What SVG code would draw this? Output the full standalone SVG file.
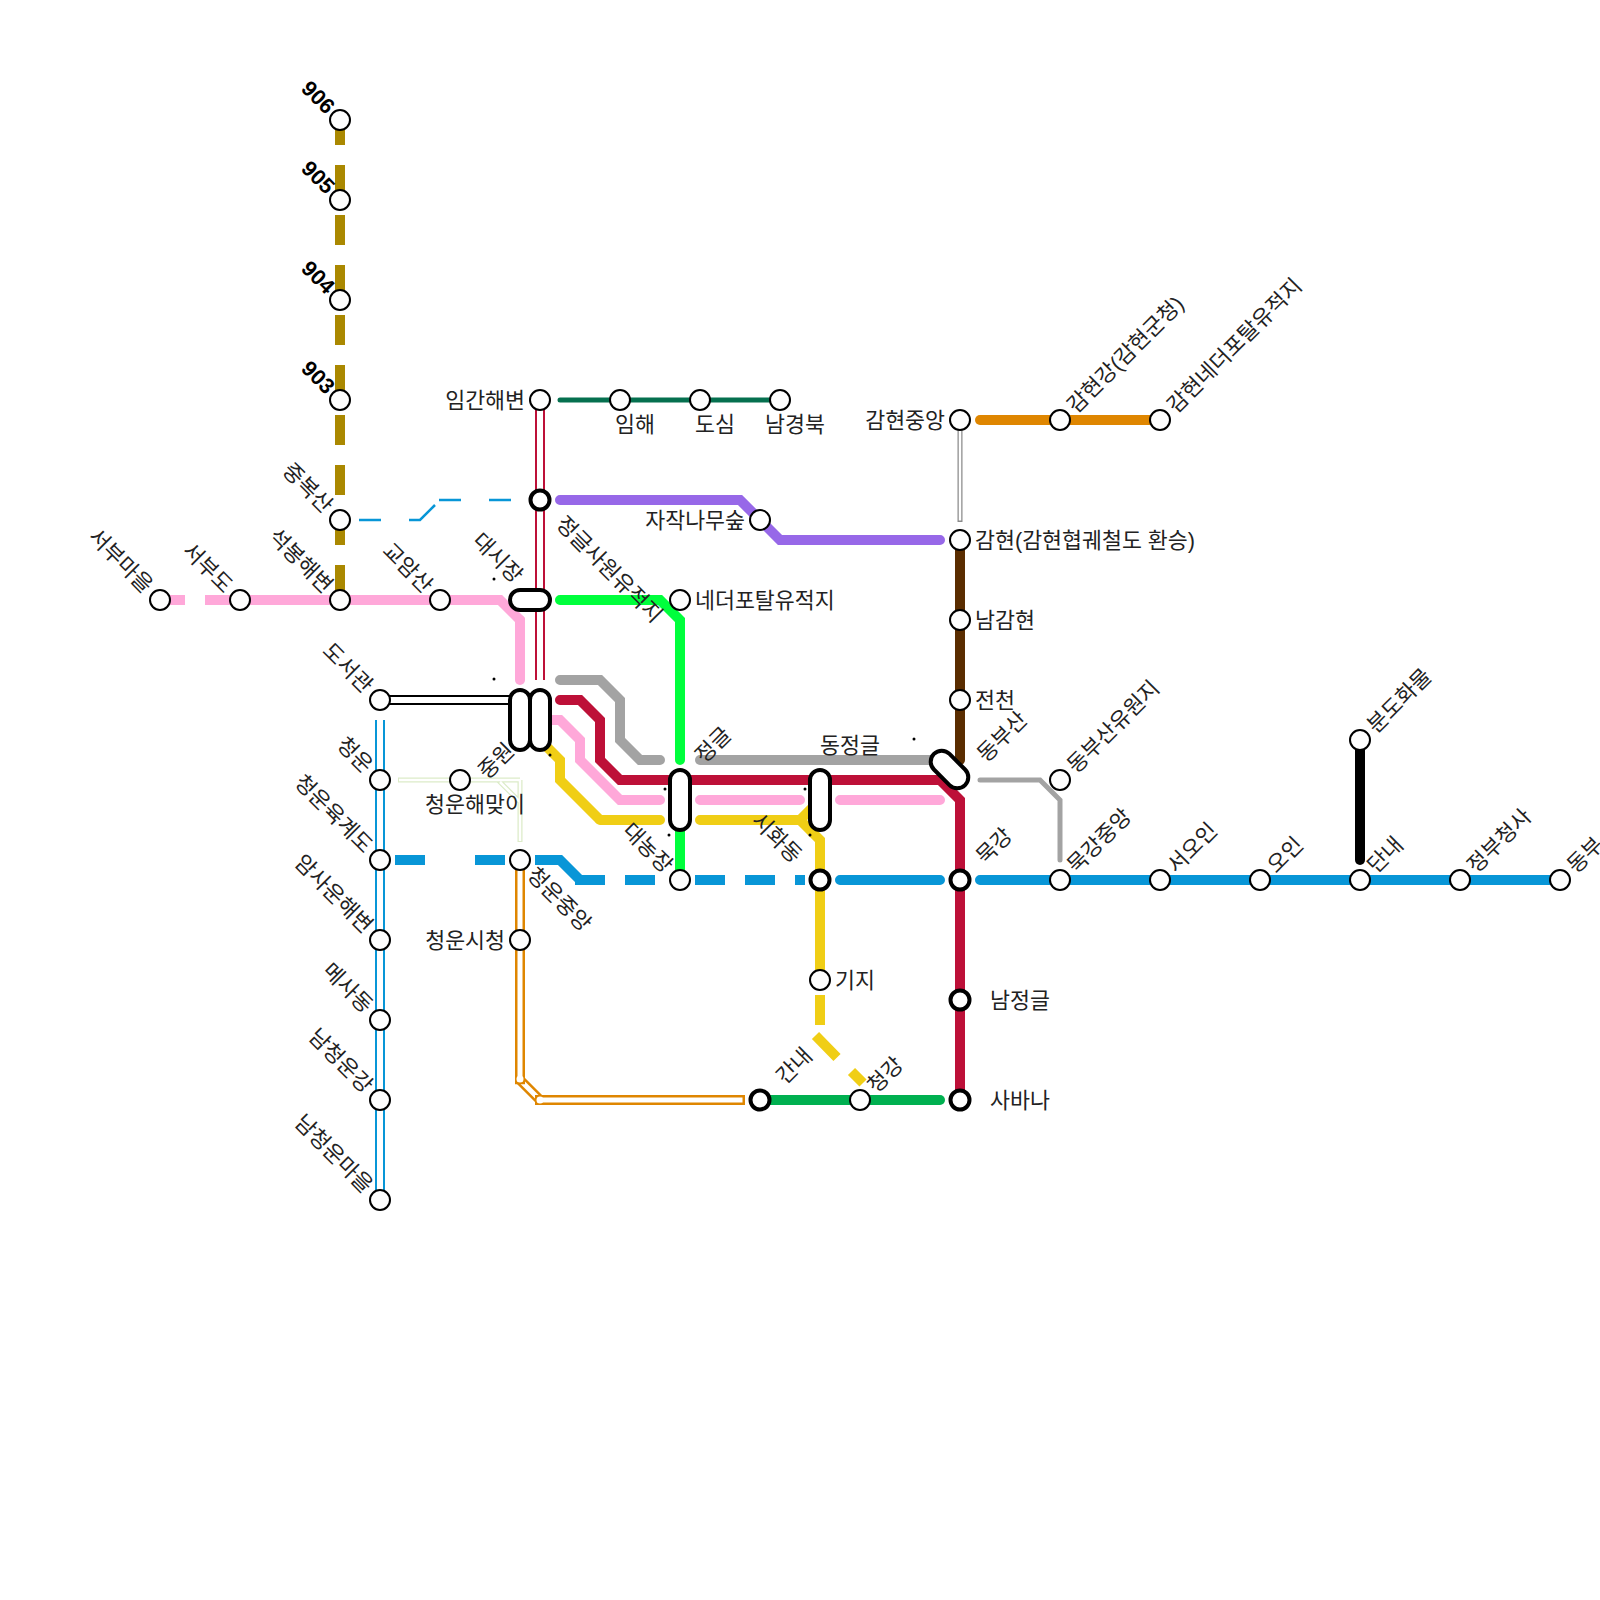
<svg xmlns="http://www.w3.org/2000/svg" width="1600" height="1600" viewBox="0 0 1600 1600">
<style>
text{font-family:"Liberation Sans","Noto Sans CJK KR",sans-serif;font-size:21.7px;fill:#222;dominant-baseline:central}
.b{font-weight:bold;fill:#000}
.e{text-anchor:end}
.m{text-anchor:middle}
.l{fill:none;stroke-linejoin:miter}
.r{stroke-linecap:round}
.w10{stroke-width:10}
.s{fill:#fff;stroke:#000;stroke-width:2}
.t{fill:#fff;stroke:#000;stroke-width:4}
.c{fill:#fff;stroke:#000;stroke-width:4}
.d{fill:#000}
</style>
<rect width="1600" height="1600" fill="#fff"/>
<g id="connectors">
<path class="l w10" stroke="#AA8800" stroke-dasharray="30 20" d="M340 115V600"/>
<path class="l w10" stroke="#FFA8D9" stroke-dasharray="30 20" d="M155 600H235"/>
<path class="l w10" stroke="#FFA8D9" d="M235 600H500L520 620V640"/>
<path class="l w10 r" stroke="#FFA8D9" d="M520 620V680"/>
<g class="l" stroke="#0896D7" stroke-width="2.5">
<path d="M359 520H381M409 520H420L435 505M439 500H461M489 500H511"/>
</g>
<path class="l w10" stroke="#BD1038" d="M540 400V680"/>
<path class="l" stroke="#fff" stroke-width="6" d="M540 400V680"/>
<path class="l r" stroke="#05704F" stroke-width="5" d="M560 400H780"/>
<path class="l w10 r" stroke="#9768E8" d="M560 500H740L780 540H940"/>
<path class="l w10 r" stroke="#00FF3C" d="M560 600H660L680 620V760"/>
<path class="l w10" stroke="#00FF3C" d="M680 820V880"/>
<path class="l w10 r" stroke="#A3A3A3" d="M560 680H600L620 700V740L640 760H660"/>
<path class="l w10 r" stroke="#A3A3A3" d="M700 760H940"/>
<path class="l r" stroke="#A3A3A3" stroke-width="5" d="M980 780H1040L1060 800V860"/>
<path class="l w10" stroke="#FFA8D9" d="M540 715L550 720"/>
<path class="l w10 r" stroke="#FFA8D9" d="M550 720H560L580 740V760L620 800H660M700 800H800M840 800H940"/>
<path class="l w10" stroke="#F0CE15" d="M540 740L560 760V780L600 820"/>
<path class="l w10 r" stroke="#F0CE15" d="M600 820H660M700 820H800"/>
<path class="l w10" stroke="#F0CE15" d="M800 820L820 840V980M800 820L820 800M820 995V1025M815.5 1035.5L837 1057.5M851.5 1071.5L863 1083"/>
<path class="l w10 r" stroke="#BD1038" d="M560 700H580L600 720V760L620 780H940L960 800V1100"/>
<path class="l w10" stroke="#0896D7" d="M380 720V1200"/>
<path class="l" stroke="#fff" stroke-width="6" d="M380 720V1200"/>
<path class="l w10" stroke="#000" d="M380 700H510"/>
<path class="l" stroke="#fff" stroke-width="6" d="M380 700H510"/>
<path class="l w10" stroke="#0896D7" d="M395 860H425M475 860H505M535 860H560L580 880M575 880H605M625 880H655M695 880H725M745 880H775M795 880H805"/>
<path class="l w10 r" stroke="#0896D7" d="M840 880H940M980 880H1560"/>
<path class="l w10 r" stroke="#000" d="M1360 740V860"/>
<path class="l w10 r" stroke="#5A2D00" d="M960 540V760"/>
<path class="l w10 r" stroke="#DF8600" d="M980 420H1160"/>
<path class="l w10 r" stroke="#00B050" d="M770 1100H940"/>
<path class="l" stroke="#8a8a8a" stroke-width="5" d="M960 420V522"/>
<path class="l" stroke="#fff" stroke-width="2.5" d="M960 420V520.5"/>
<path class="l" stroke="#DCEBC8" stroke-width="5" d="M398 780H520M498 780L520 802M520 780V842"/>
<path class="l" stroke="#fff" stroke-width="2.5" d="M399 780H520M500 782L520 802M520 780V841"/>
<path class="l w10" stroke="#DF8600" d="M520 1080L540 1100"/>
<path class="l" stroke="#fff" stroke-width="5" d="M520 1080L540 1100"/>
<rect x="516.25" y="860" width="7.5" height="223" fill="#fff" stroke="#DF8600" stroke-width="2.5"/>
<rect x="536.25" y="1096.25" width="207.5" height="7.5" fill="#fff" stroke="#DF8600" stroke-width="2.5"/>
<circle cx="520" cy="1079" r="3.5" fill="#fff"/>
<circle cx="540" cy="1100" r="3.5" fill="#fff"/>
</g>
<g id="dots">
<circle class="d" cx="494" cy="579" r="1.5"/>
<circle class="d" cx="494" cy="679" r="1.5"/>
<circle class="d" cx="519" cy="725" r="1.5"/>
<circle class="d" cx="550" cy="755" r="1.5"/>
<circle class="d" cx="665" cy="789" r="1.5"/>
<circle class="d" cx="669" cy="835" r="1.5"/>
<circle class="d" cx="805" cy="789" r="1.5"/>
<circle class="d" cx="810" cy="835" r="1.5"/>
<circle class="d" cx="914" cy="739" r="1.5"/>
</g>
<g id="n906"><circle class="s" cx="340" cy="120" r="10"/><text class="b e" transform="translate(331,110) rotate(45)">906</text></g>
<g id="n905"><circle class="s" cx="340" cy="200" r="10"/><text class="b e" transform="translate(331,190) rotate(45)">905</text></g>
<g id="n904"><circle class="s" cx="340" cy="300" r="10"/><text class="b e" transform="translate(331,290) rotate(45)">904</text></g>
<g id="n903"><circle class="s" cx="340" cy="400" r="10"/><text class="b e" transform="translate(331,390) rotate(45)">903</text></g>
<g id="n-jungboksan"><circle class="s" cx="340" cy="520" r="10"/><text class="e" transform="translate(329,509) rotate(45)">중복산</text></g>
<g id="n-seobumaeul"><circle class="s" cx="160" cy="600" r="10"/><text class="e" transform="translate(149,589) rotate(45)">서부마을</text></g>
<g id="n-seobudo"><circle class="s" cx="240" cy="600" r="10"/><text class="e" transform="translate(229,589) rotate(45)">서부도</text></g>
<g id="n-seokbong"><circle class="s" cx="340" cy="600" r="10"/><text class="e" transform="translate(329,589) rotate(45)">석봉해변</text></g>
<g id="n-gyoamsan"><circle class="s" cx="440" cy="600" r="10"/><text class="e" transform="translate(429,589) rotate(45)">교암산</text></g>
<g id="n-daesijang"><rect class="c" x="510" y="590" width="40" height="20" rx="10"/><text class="e" transform="translate(519,579) rotate(45)">대시장</text></g>
<g id="n-imgan"><circle class="s" cx="540" cy="400" r="10"/><text class="e" x="525" y="400">임간해변</text></g>
<g id="n-imhae"><circle class="s" cx="620" cy="400" r="10"/><text class="m" x="635" y="424">임해</text></g>
<g id="n-dosim"><circle class="s" cx="700" cy="400" r="10"/><text class="m" x="715" y="424">도심</text></g>
<g id="n-namgyeongbuk"><circle class="s" cx="780" cy="400" r="10"/><text class="m" x="795" y="424">남경북</text></g>
<g id="n-jeonggeulsawon"><circle class="t" cx="540" cy="500" r="9.5"/><text transform="translate(560,520) rotate(45)">정글사원유적지</text></g>
<g id="n-jajak"><circle class="s" cx="760" cy="520" r="10"/><text class="e" x="745" y="520">자작나무숲</text></g>
<g id="n-nedeo"><circle class="s" cx="680" cy="600" r="10"/><text x="695" y="600">네더포탈유적지</text></g>
<g id="n-doseogwan"><circle class="s" cx="380" cy="700" r="10"/><text class="e" transform="translate(369,689) rotate(45)">도서관</text></g>
<g id="n-cheongun"><circle class="s" cx="380" cy="780" r="10"/><text class="e" transform="translate(369,769) rotate(45)">청운</text></g>
<g id="n-yukgyedo"><circle class="s" cx="380" cy="860" r="10"/><text class="e" transform="translate(369,849) rotate(45)">청운육계도</text></g>
<g id="n-amsa"><circle class="s" cx="380" cy="940" r="10"/><text class="e" transform="translate(369,929) rotate(45)">암사운해변</text></g>
<g id="n-mesa"><circle class="s" cx="380" cy="1020" r="10"/><text class="e" transform="translate(369,1009) rotate(45)">메사동</text></g>
<g id="n-namcheongungang"><circle class="s" cx="380" cy="1100" r="10"/><text class="e" transform="translate(369,1089) rotate(45)">남청운강</text></g>
<g id="n-namcheongunmaeul"><circle class="s" cx="380" cy="1200" r="10"/><text class="e" transform="translate(369,1189) rotate(45)">남청운마을</text></g>
<g id="n-jungwon"><rect class="c" x="510" y="690" width="20" height="60" rx="10"/><rect class="c" x="530" y="690" width="20" height="60" rx="10"/><text transform="translate(482,775) rotate(-45)">중원</text></g>
<g id="n-haemaji"><circle class="s" cx="460" cy="780" r="10"/><text class="m" x="475" y="804">청운해맞이</text></g>
<g id="n-cheongunjungang"><circle class="s" cx="520" cy="860" r="10"/><text transform="translate(531,871) rotate(45)">청운중앙</text></g>
<g id="n-cheongunsicheong"><circle class="s" cx="520" cy="940" r="10"/><text class="e" x="505" y="940">청운시청</text></g>
<g id="n-jeonggeul"><rect class="c" x="670" y="770" width="20" height="60" rx="10"/><text transform="translate(699,759) rotate(-45)">정글</text></g>
<g id="n-daenong"><circle class="s" cx="680" cy="880" r="10"/><text class="e" transform="translate(669,869) rotate(45)">대농장</text></g>
<g id="n-donggeul"><rect class="c" x="810" y="770" width="20" height="60" rx="10"/><text class="m" x="850" y="745">동정글</text></g>
<g id="n-sihwa"><circle class="t" cx="820" cy="880" r="9.5"/><text class="e" transform="translate(798,859) rotate(45)">시화동</text></g>
<g id="n-giji"><circle class="s" cx="820" cy="980" r="10"/><text x="835" y="980">기지</text></g>
<g id="n-gannae"><circle class="t" cx="760" cy="1100" r="9.5"/><text transform="translate(780,1080) rotate(-45)">간내</text></g>
<g id="n-cheonggang"><circle class="s" cx="860" cy="1100" r="10"/><text transform="translate(871,1089) rotate(-45)">청강</text></g>
<g id="n-sabana"><circle class="t" cx="960" cy="1100" r="9.5"/><text x="990" y="1100">사바나</text></g>
<g id="n-namjeong"><circle class="t" cx="960" cy="1000" r="9.5"/><text x="990" y="1000">남정글</text></g>
<g id="n-mokgang"><circle class="t" cx="960" cy="880" r="9.5"/><text transform="translate(980,860) rotate(-45)">묵강</text></g>
<g id="n-dongbusan"><rect class="c" x="927.5" y="758.5" width="44" height="22" rx="11" transform="rotate(45 949.5 769.5)"/><text transform="translate(981,758) rotate(-45)">동부산</text></g>
<g id="n-jeoncheon"><circle class="s" cx="960" cy="700" r="10"/><text x="975" y="700">전천</text></g>
<g id="n-namgamhyeon"><circle class="s" cx="960" cy="620" r="10"/><text x="975" y="620">남감현</text></g>
<g id="n-gamhyeon"><circle class="s" cx="960" cy="540" r="10"/><text x="975" y="540">감현(감현협궤철도 환승)</text></g>
<g id="n-gamhyeonjungang"><circle class="s" cx="960" cy="420" r="10"/><text class="e" x="945" y="420">감현중앙</text></g>
<g id="n-gamhyeongang"><circle class="s" cx="1060" cy="420" r="10"/><text transform="translate(1071,409) rotate(-45)">감현강(감현군청)</text></g>
<g id="n-gamhyeonnedeo"><circle class="s" cx="1160" cy="420" r="10"/><text transform="translate(1171,409) rotate(-45)">감현네더포탈유적지</text></g>
<g id="n-yuwonji"><circle class="s" cx="1060" cy="780" r="10"/><text transform="translate(1071,769) rotate(-45)">동부산유원지</text></g>
<g id="n-mokgangjungang"><circle class="s" cx="1060" cy="880" r="10"/><text transform="translate(1071,869) rotate(-45)">묵강중앙</text></g>
<g id="n-seoin"><circle class="s" cx="1160" cy="880" r="10"/><text transform="translate(1171,869) rotate(-45)">서오인</text></g>
<g id="n-oin"><circle class="s" cx="1260" cy="880" r="10"/><text transform="translate(1271,869) rotate(-45)">오인</text></g>
<g id="n-dannae"><circle class="s" cx="1360" cy="880" r="10"/><text transform="translate(1371,869) rotate(-45)">단내</text></g>
<g id="n-bundo"><circle class="s" cx="1360" cy="740" r="10"/><text transform="translate(1371,729) rotate(-45)">분도화물</text></g>
<g id="n-jeongbu"><circle class="s" cx="1460" cy="880" r="10"/><text transform="translate(1471,869) rotate(-45)">정부청사</text></g>
<g id="n-dongbu"><circle class="s" cx="1560" cy="880" r="10"/><text transform="translate(1571,869) rotate(-45)">동부</text></g>
</svg>
